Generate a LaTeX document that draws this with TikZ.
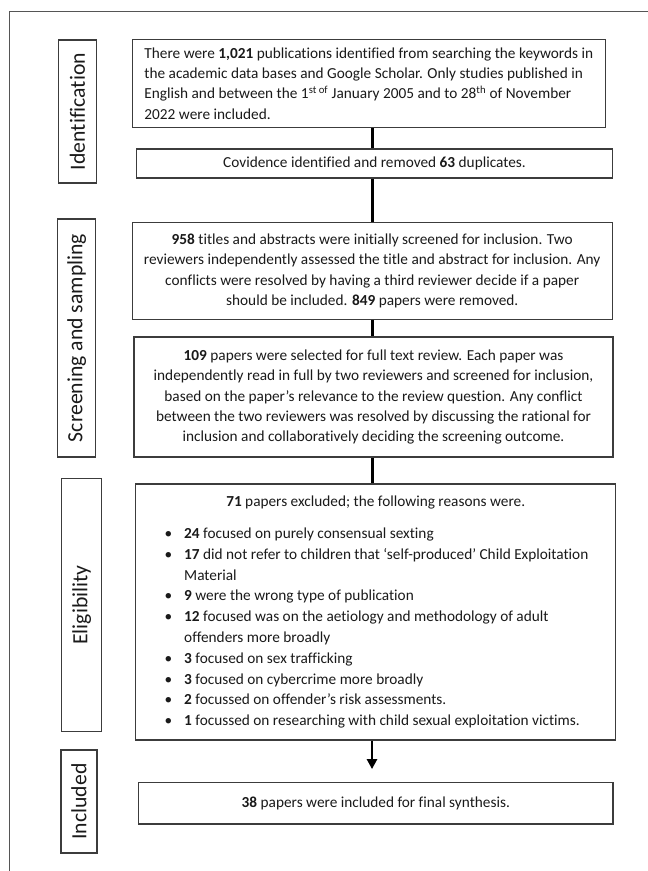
\documentclass[tikz,border=0pt]{standalone}
\usepackage{fontspec}
\setmainfont{Carlito}[Ligatures=NoCommon]
\usetikzlibrary{arrows.meta}
\definecolor{boxgray}{HTML}{3C3C3C}
\definecolor{framegray}{HTML}{555555}
\definecolor{txt}{HTML}{1A1A1A}
\newcommand{\bodyfont}{\fontsize{15.3}{20.3}\selectfont}
\newcommand{\labfont}{\fontsize{21.7}{25}\selectfont}
\newcommand{\bul}{\hspace*{22pt}\makebox[19.5pt][l]{•}}
\newcommand{\cont}{\hspace*{41.5pt}}
\begin{document}
\begin{tikzpicture}[x=1pt,y=-1pt,
  box/.style={draw=boxgray, line width=1.1pt, inner sep=0pt, text=txt, font=\bodyfont},
  lab/.style={draw=boxgray, line width=1.1pt, rotate=90, inner sep=0pt, text=txt, font=\labfont},
  conn/.style={line width=3pt, black},
  arr/.style={line width=2.6pt, black, -{Triangle[length=10pt,width=10pt]}, shorten >=13pt}]
\useasboundingbox (0,0) rectangle (648,871);
\fill[white] (0,0) rectangle (648,871);
% outer frame (cropped at right and bottom)
\draw[line width=1.5pt, framegray] (648,11.7) -- (9.3,11.7) -- (9.3,871);

% stage labels
\node[lab, minimum width=143pt, minimum height=38.4pt] (l1) at (77.5,111.5) {Identification};
\node[lab, minimum width=238pt, minimum height=38.3pt] (l2) at (76.7,338) {Screening and sampling};
\node[lab, minimum width=253pt, minimum height=40pt] (l3) at (81.7,605) {Eligibility};
\node[lab, minimum width=103pt, minimum height=36pt] (l4) at (79,801.5) {Included};

% boxes
\node[box, minimum width=473.5pt, minimum height=88.4pt, align=left] (b1) at (368.8,83.5)
 {There were \textbf{1,021} publications identified from searching the keywords in\\
  the academic data bases and Google Scholar. Only studies published in\\
  English and between the 1\textsuperscript{st of} January 2005 and to 28\textsuperscript{th} of November\\
  2022 were included.};

\node[box, minimum width=475.6pt, minimum height=29pt, align=center] (b2) at (374.5,163.5)
 {Covidence identified and removed \textbf{63} duplicates.};

\node[box, minimum width=480.3pt, minimum height=97pt, align=center] (b3) at (372.2,270.8)
 {\textbf{958} titles and abstracts were initially screened for inclusion. Two\\
  reviewers independently assessed the title and abstract for inclusion. Any\\
  conflicts were resolved by having a third reviewer decide if a paper\\
  should be included. \textbf{849} papers were removed.};

\node[box, minimum width=479pt, minimum height=120pt, align=center] (b4) at (373.5,397)
 {\textbf{109} papers were selected for full text review. Each paper was\\
  independently read in full by two reviewers and screened for inclusion,\\
  based on the paper’s relevance to the review question. Any conflict\\
  between the two reviewers was resolved by discussing the rational for\\
  inclusion and collaboratively deciding the screening outcome.};

\node[box, minimum width=480pt, minimum height=256pt] (b5) at (375.7,612)
 {\begin{minipage}{466pt}\fontsize{15.3}{20.8}\selectfont
  {\centering\textbf{71} papers excluded; the following reasons were.\par}
  \vspace{11.5pt}
  \raggedright
  \bul\textbf{24} focused on purely consensual sexting\\
  \bul\textbf{17} did not refer to children that ‘self-produced’ Child Exploitation\\
  \cont Material\\
  \bul\textbf{9} were the wrong type of publication\\
  \bul\textbf{12} focused was on the aetiology and methodology of adult\\
  \cont offenders more broadly\\
  \bul\textbf{3} focused on sex trafficking\\
  \bul\textbf{3} focused on cybercrime more broadly\\
  \bul\textbf{2} focussed on offender’s risk assessments.\\
  \bul\textbf{1} focussed on researching with child sexual exploitation victims.
  \end{minipage}};

\node[box, minimum width=474.3pt, minimum height=41.3pt, align=center] (b6) at (375.8,803.3)
 {\textbf{38} papers were included for final synthesis.};

% connectors
\coordinate (cx) at (372,0);
\draw[conn] (b1.south -| cx) -- (b2.north -| cx);
\draw[conn] (b2.south -| cx) -- (b3.north -| cx);
\draw[conn] (b3.south -| cx) -- (b4.north -| cx);
\draw[conn] (b4.south -| cx) -- (b5.north -| cx);
\draw[arr] (b5.south -| cx) -- (b6.north -| cx);
\end{tikzpicture}
\end{document}
